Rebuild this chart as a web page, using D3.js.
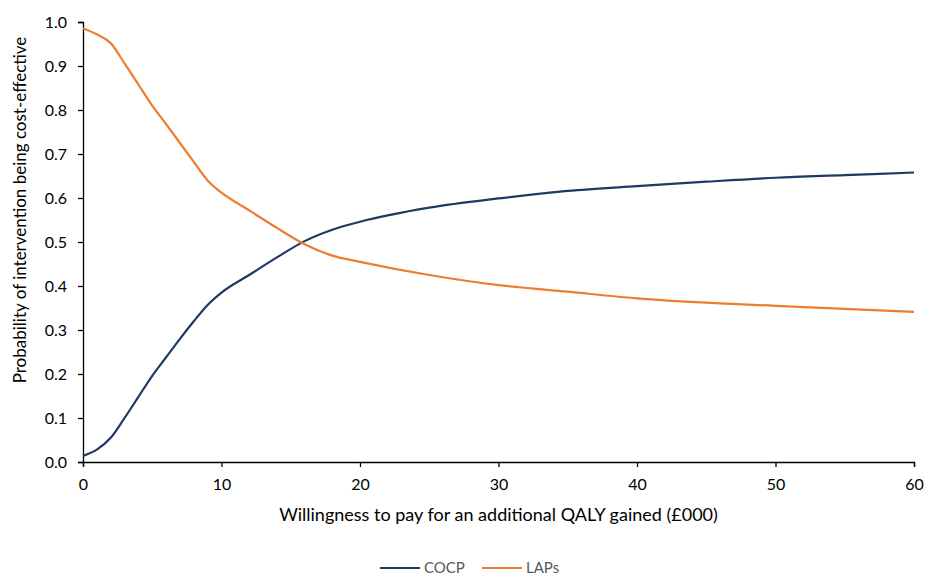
<!DOCTYPE html>
<html>
<head>
<meta charset="utf-8">
<script src="https://cdn.jsdelivr.net/npm/d3@7"></script>
<style>
  body { margin: 0; background: #fff; }
  svg text { font-family: Lato, "Open Sans", sans-serif; fill: #000; }
</style>
</head>
<body>
<div id="chart"></div>
<script>
// willingness to pay (£000)
var wtp = [0, 1, 2, 3, 4, 5, 6, 7, 8, 9, 10, 12, 14, 16, 18, 20, 25, 30, 35, 40, 45, 50, 55, 60];
var cocp = [0.014, 0.028, 0.055, 0.1, 0.148, 0.196, 0.238, 0.28, 0.32, 0.357, 0.385, 0.425, 0.465, 0.502, 0.528, 0.546, 0.578, 0.599, 0.616, 0.627, 0.637, 0.646, 0.652, 0.658];
var laps = [0.986, 0.972, 0.952, 0.906, 0.858, 0.81, 0.768, 0.725, 0.682, 0.64, 0.612, 0.572, 0.532, 0.495, 0.469, 0.455, 0.425, 0.402, 0.387, 0.372, 0.362, 0.355, 0.348, 0.341];
var seriesNames = ["COCP", "LAPs"];
var xTicks = [0, 10, 20, 30, 40, 50, 60];
var yTicks = [0, 0.1, 0.2, 0.3, 0.4, 0.5, 0.6, 0.7, 0.8, 0.9, 1.0];

var colors = { COCP: "#203864", LAPs: "#ED7D31" };

var margin = { top: 22, right: 11, bottom: 115, left: 83 },
  width = 925 - margin.left - margin.right,
  height = 577 - margin.top - margin.bottom;

var svg = d3
  .select("#chart")
  .append("svg")
  .attr("width", 925)
  .attr("height", 577);

var g = svg
  .append("g")
  .attr("transform", "translate(" + margin.left + "," + margin.top + ")");

var x = d3.scaleLinear().domain([0, 60]).range([0, width]);
var y = d3.scaleLinear().domain([0, 1]).range([height, 0]);

// X axis
var xAxis = g
  .append("g")
  .attr("transform", "translate(0," + height + ")")
  .call(d3.axisBottom(x).tickValues(xTicks).tickSize(5).tickPadding(11).tickFormat(d3.format("d")));
xAxis.selectAll("text").attr("font-size", "16px").attr("dy", "0.75em");

// Y axis
var yAxis = g
  .append("g")
  .call(d3.axisLeft(y).tickValues(yTicks).tickSize(5).tickPadding(11).tickFormat(d3.format(".1f")));
yAxis.selectAll("text").attr("font-size", "16px");

g.selectAll(".domain, .tick line").attr("stroke", "#000").attr("stroke-width", 1.3);

// axis labels
svg
  .append("text")
  .attr("x", margin.left + width / 2)
  .attr("y", 521)
  .attr("text-anchor", "middle")
  .attr("font-size", "18px")
  .text("Willingness to pay for an additional QALY gained (£000)");

svg
  .append("text")
  .attr("transform", "translate(26,210) rotate(-90)")
  .attr("text-anchor", "middle")
  .attr("font-size", "17px")
  .text("Probability of intervention being cost-effective");

// lines
var series = [
  { name: "COCP", values: cocp },
  { name: "LAPs", values: laps }
];

var line = d3
  .line()
  .x(function (d, i) { return x(wtp[i]); })
  .y(function (d) { return y(d); })
  .curve(d3.curveMonotoneX);

g.selectAll(".series")
  .data(series)
  .enter()
  .append("path")
  .attr("fill", "none")
  .attr("stroke", function (d) { return colors[d.name]; })
  .attr("stroke-width", 2.2)
  .attr("d", function (d) { return line(d.values); });

// legend
var legend = svg
  .selectAll(".legend")
  .data(seriesNames)
  .enter()
  .append("g")
  .attr("transform", function (d, i) { return "translate(" + (380 + i * 102) + ",568)"; });

legend
  .append("line")
  .attr("x1", 0)
  .attr("x2", 40)
  .attr("stroke", function (d) { return colors[d]; })
  .attr("stroke-width", 2.2);

legend
  .append("text")
  .attr("x", 44)
  .attr("dy", "0.35em")
  .attr("font-size", "15px")
  .style("fill", "#595959")
  .text(function (d) { return d; });
</script>
</body>
</html>
